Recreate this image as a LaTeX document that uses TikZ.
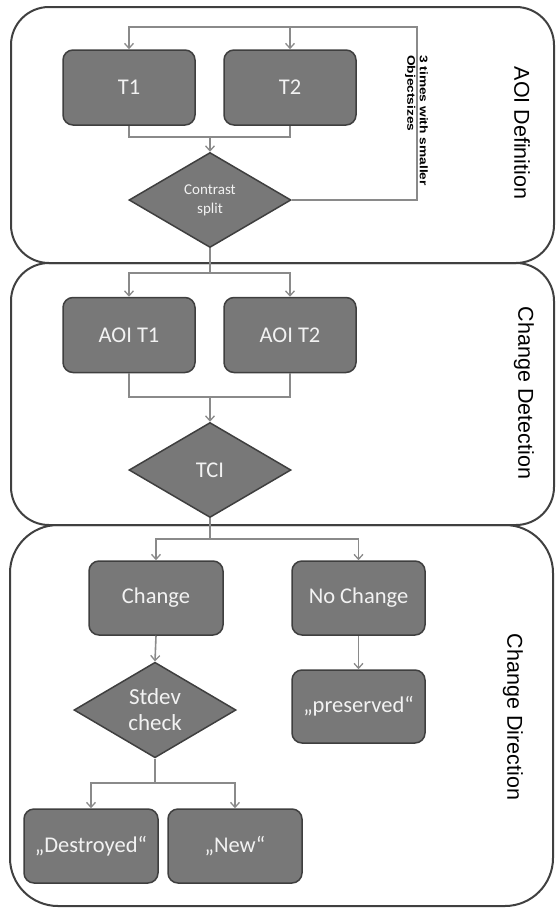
\documentclass[tikz,border=0pt]{standalone}
\usepackage{fontspec}
\setmainfont{Carlito}
\newfontfamily\lblfont{Liberation Sans}
\usetikzlibrary{shapes.geometric,arrows.meta}
\definecolor{boxfill}{HTML}{787878}
\definecolor{boxline}{HTML}{3F3F3F}
\definecolor{secline}{HTML}{404040}
\definecolor{conncol}{HTML}{8A8A8A}
\definecolor{txtcol}{HTML}{F2F2F2}
\tikzset{
  section/.style={draw=secline, line width=2pt},
  procbox/.style={draw=boxline, fill=boxfill, line width=1.5pt, rounded corners=10pt,
    minimum width=132pt, minimum height=75pt, inner sep=0pt, text=txtcol, font=\fontsize{22.5}{25}\selectfont},
  decision/.style={diamond, draw=boxline, fill=boxfill, line width=1.5pt,
    minimum width=162pt, minimum height=95pt, inner sep=0pt, text=txtcol, align=center},
  conn/.style={draw=conncol, line width=1.6pt},
  arr/.style={conn, -{Straight Barb[length=5pt,width=9pt,line width=1.3pt]}},
  seclabel/.style={rotate=-90, font=\lblfont\fontsize{21.5}{24}\selectfont, text=black},
}
\begin{document}
\begin{tikzpicture}[x=1pt,y=-1pt]
\useasboundingbox (0,0) rectangle (555,908);
% sections
\draw[section, rounded corners=38pt] (11,7) rectangle (554,263);
\draw[section, rounded corners=38pt] (11,263) rectangle (554,525);
\draw[section, rounded corners=48pt] (10,525) rectangle (553,906);
\node[seclabel] (lab1) at (522,133) {AOI Definition};
\node[seclabel] (lab2) at (524,393) {Change Detection};
\node[seclabel] (lab3) at (513,717) {Change Direction};
% section 1
\node[procbox] (t1) at (129,87.5) {T1};
\node[procbox] (t2) at (290,87.5) {T2};
\node[decision, font=\fontsize{15}{19}\selectfont] (cs) at (210,200) {Contrast\\split};
\coordinate (loopTop) at (417,27);
\coordinate (j1) at (210,137);
\draw[arr] (cs.east) -| (loopTop) -| (t1.north);
\draw[arr] (t2.north |- loopTop) -- (t2.north);
\draw[conn] (t1.south) |- (j1) -| (t2.south);
\draw[arr] (j1) -- (cs.north);
\node[rotate=-90, anchor=north west, inner sep=0pt, align=left,
  font=\lblfont\bfseries\fontsize{11}{12.5}\selectfont] (loopnote) at (428,55)
  {\scalebox{1.25}[1]{3 times with smaller}\\\scalebox{1.25}[1]{Objectsizes}};
% section 2
\node[procbox] (a1) at (129,335) {AOI T1};
\node[procbox] (a2) at (290,335) {AOI T2};
\node[decision, font=\fontsize{22.5}{25}\selectfont] (tci) at (210,470) {TCI};
\coordinate (s2) at (210,273);
\coordinate (j2) at (210,397);
\draw[conn] (cs.south) -- (s2);
\draw[arr] (s2) -| (a1.north);
\draw[arr] (s2) -| (a2.north);
\draw[conn] (a1.south) |- (j2) -| (a2.south);
\draw[arr] (j2) -- (tci.north);
% section 3
\node[procbox, minimum width=134pt, minimum height=74pt] (chg) at (156,598) {Change};
\node[procbox, minimum width=133pt, minimum height=74pt] (noc) at (358.5,598) {No Change};
\node[decision, font=\fontsize{23}{26}\selectfont] (std) at (155,710) {Stdev\\check};
\node[procbox, minimum width=133pt, minimum height=73pt] (pres) at (358.5,706.5) {„preserved“};
\node[procbox, minimum width=134pt, minimum height=74pt] (des) at (91,846) {„Destroyed“};
\node[procbox, minimum width=134pt, minimum height=74pt] (new) at (235,846) {„New“};
\coordinate (s3) at (210,539);
\coordinate (s4) at (155,783);
\draw[conn] (tci.south) -- (s3);
\draw[arr] (s3) -| (chg.north);
\draw[arr] (s3) -| (noc.north);
\draw[arr] (chg.south) -- (std.north);
\draw[arr] (noc.south) -- (pres.north);
\draw[conn] (std.south) -- (s4);
\draw[arr] (s4) -| (des.north);
\draw[arr] (s4) -| (new.north);
\end{tikzpicture}
\end{document}
